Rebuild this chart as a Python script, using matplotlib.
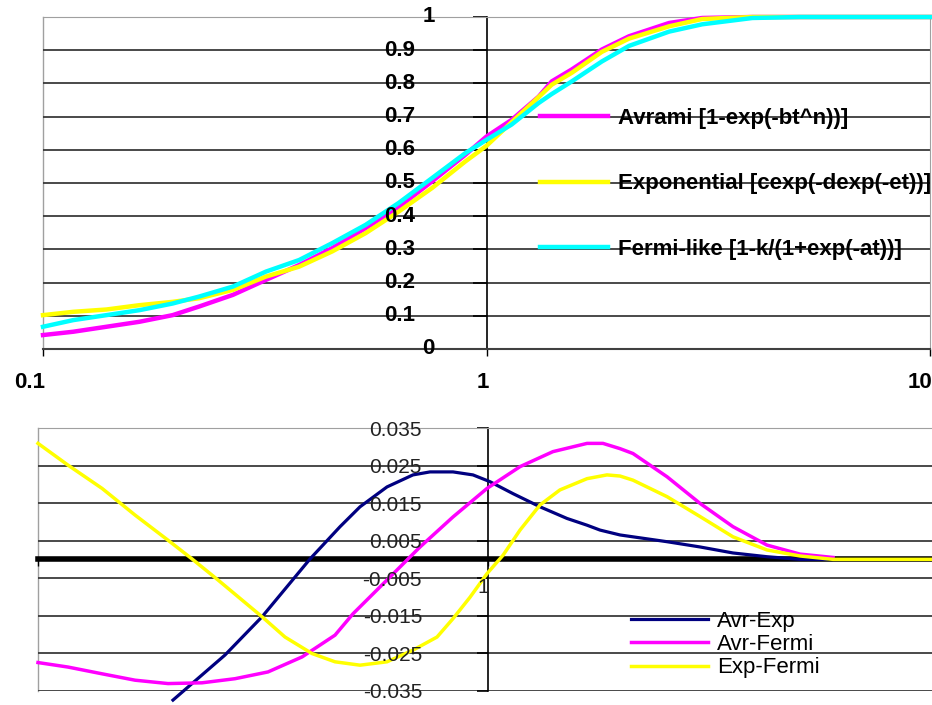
import matplotlib
matplotlib.use("Agg")
import matplotlib.pyplot as plt
from matplotlib.ticker import NullLocator

plt.rcParams['font.family'] = ['Liberation Sans', 'DejaVu Sans']

# ---- top panel data (fraction vs t, log axis) ----
t_top = [0.1, 0.117, 0.139, 0.165, 0.196, 0.225, 0.268, 0.318, 0.378, 0.449, 0.534,
         0.634, 0.754, 0.896, 1.0, 1.139, 1.311, 1.403, 1.557, 1.82, 2.096, 2.581,
         3.064, 3.977, 5.08, 10]
avrami = [0.042, 0.052, 0.067, 0.082, 0.102, 0.128, 0.163, 0.208, 0.253, 0.304, 0.364,
          0.427, 0.505, 0.585, 0.64, 0.69, 0.76, 0.806, 0.842, 0.902, 0.942, 0.982,
          0.997, 1.0, 1.0, 1.0]
exponential = [0.102, 0.112, 0.119, 0.132, 0.142, 0.153, 0.178, 0.218, 0.248, 0.294, 0.349,
               0.414, 0.485, 0.565, 0.612, 0.683, 0.759, 0.796, 0.832, 0.895, 0.935, 0.972,
               0.994, 1.0, 1.0, 1.0]
fermi = [0.067, 0.087, 0.102, 0.117, 0.137, 0.158, 0.188, 0.233, 0.268, 0.319, 0.374,
         0.44, 0.515, 0.59, 0.63, 0.676, 0.741, 0.768, 0.806, 0.866, 0.913, 0.956,
         0.978, 0.997, 1.0, 1.0]
top_names = ['Avrami [1-exp(-bt^n))]', 'Exponential [cexp(-dexp(-et))]',
             'Fermi-like [1-k/(1+exp(-at))]']
top_yticks = [0, 0.1, 0.2, 0.3, 0.4, 0.5, 0.6, 0.7, 0.8, 0.9, 1]
top_ylabels = ['0', '0.1', '0.2', '0.3', '0.4', '0.5', '0.6', '0.7', '0.8', '0.9', '1']
xticks = [0.1, 1, 10]
xlabels = ['0.1', '1', '10']

# ---- bottom panel data (differences) ----
t_avr_exp = [0.1995, 0.2603, 0.3147, 0.4022, 0.469, 0.5195, 0.5964, 0.681, 0.7432, 0.836,
             0.926, 1.01, 1.137, 1.305, 1.498, 1.66, 1.774, 1.965, 2.1, 2.5, 2.96,
             3.503, 4.169, 4.935, 5.639]
avr_exp = [-0.0375, -0.0255, -0.0153, 0.0001, 0.0087, 0.014, 0.0193, 0.0225, 0.0233, 0.0233,
           0.0225, 0.0207, 0.0175, 0.014, 0.0109, 0.0091, 0.0078, 0.0065, 0.006, 0.0047, 0.0033,
           0.0017, 0.0007, 0.0, 0.0]
t_avr_fermi = [0.1, 0.1166, 0.1388, 0.1643, 0.1945, 0.2314, 0.2741, 0.3244, 0.3862, 0.4571,
               0.5012, 0.5964, 0.7063, 0.836, 0.995, 1.178, 1.394, 1.66, 1.801, 1.965, 2.1,
               2.5, 2.96, 3.503, 4.169, 4.935, 5.845]
avr_fermi = [-0.0275, -0.0287, -0.0305, -0.0322, -0.0331, -0.0329, -0.0318, -0.030, -0.026,
             -0.0202, -0.0145, -0.0055, 0.0033, 0.0113, 0.0189, 0.0247, 0.0287, 0.0309, 0.0309,
             0.0295, 0.0282, 0.022, 0.0149, 0.0087, 0.0038, 0.0014, 0.0005]
t_exp_fermi = [0.1, 0.1166, 0.1388, 0.1643, 0.1945, 0.22, 0.2512, 0.3147, 0.3539, 0.4064,
               0.4571, 0.5195, 0.5964, 0.681, 0.7704, 0.836, 0.912, 0.995, 1.08, 1.178, 1.305,
               1.445, 1.66, 1.838, 1.965, 2.1, 2.5, 2.96, 3.503, 4.169, 4.935, 5.845, 10]
exp_fermi = [0.0309, 0.0251, 0.0189, 0.0118, 0.0051, 0.0001, -0.0055, -0.0153, -0.0207, -0.0251,
             -0.0273, -0.0282, -0.0273, -0.0242, -0.0207, -0.0158, -0.0101, -0.0038, 0.0011,
             0.0078, 0.0145, 0.0185, 0.0215, 0.0225, 0.0222, 0.0211, 0.0167, 0.0114, 0.006,
             0.0025, 0.0009, 0.0, 0.0]
bottom_names = ['Avr-Exp', 'Avr-Fermi', 'Exp-Fermi']
bottom_yticks = [-0.035, -0.025, -0.015, -0.005, 0.005, 0.015, 0.025, 0.035]
bottom_ylabels = ['-0.035', '-0.025', '-0.015', '-0.005', '0.005', '0.015', '0.025', '0.035']

W, H = 932, 705
fig = plt.figure(figsize=(W / 100, H / 100), dpi=100)

# ================= top panel =================
ax1 = fig.add_axes([43 / W, 1 - 349 / H, 887 / W, 332 / H])
ax1.set_xscale('log')
ax1.set_xlim(0.1, 10)
ax1.set_ylim(0, 1)
ax1.spines['left'].set_position(('data', 1))
ax1.spines['left'].set_color('black')
ax1.spines['left'].set_linewidth(1.2)
ax1.spines['top'].set_color('#a0a0a0')
ax1.spines['right'].set_color('#a0a0a0')
ax1.spines['bottom'].set_color('#404040')
ax1.spines['bottom'].set_linewidth(1.5)
ax1.axvline(0.1, color='#a0a0a0', lw=1, clip_on=False, zorder=1)
ax1.hlines(top_yticks[1:-1], 0.1, 10, color='#3a3a3a', lw=1.3, zorder=1)

ax1.set_yticks(top_yticks)
ax1.set_xticks(xticks)
ax1.xaxis.set_minor_locator(NullLocator())
ax1.tick_params(axis='y', direction='out', length=10, width=1.2, labelleft=False)
ax1.tick_params(axis='x', direction='out', length=5, width=1, labelbottom=False)

ax1.plot(t_top, avrami, color='#ff00ff', lw=3.2, clip_on=False, label=top_names[0], zorder=3)
ax1.plot(t_top, exponential, color='#ffff00', lw=3.2, clip_on=False, label=top_names[1], zorder=3)
ax1.plot(t_top, fermi, color='#00ffff', lw=3.2, clip_on=False, label=top_names[2], zorder=3)

for v, lab in zip(top_yticks, top_ylabels):
    dx = -52 if '.' not in lab else -71
    ax1.annotate(lab, xy=(1, v), xycoords='data', xytext=(dx, 0), textcoords='offset pixels',
                 ha='right', va='center', fontsize=16, fontweight='bold', annotation_clip=False)
for x, lab in zip(xticks, xlabels):
    ax1.annotate(lab, xy=(x, 0), xycoords='data', xytext=(2, -34), textcoords='offset pixels',
                 ha='right', va='center', fontsize=16, fontweight='bold', annotation_clip=False)

ax1.legend(loc='upper left', bbox_to_anchor=(540 / W, 1 - 108 / H), bbox_transform=fig.transFigure,
           frameon=False, prop={'size': 16, 'weight': 'bold'}, handlelength=3.06,
           handletextpad=0.45, labelspacing=2.0, borderpad=0, borderaxespad=0)

# ================= bottom panel =================
ax2 = fig.add_axes([38 / W, 1 - 690.7 / H, 900 / W, 262.7 / H])
ax2.set_xscale('log')
ax2.set_xlim(0.1, 10)
ax2.set_ylim(-0.035, 0.035)
ax2.spines['left'].set_position(('data', 1))
ax2.spines['left'].set_color('black')
ax2.spines['left'].set_linewidth(1.2)
ax2.spines['bottom'].set_position(('data', 0))
ax2.spines['bottom'].set_color('black')
ax2.spines['bottom'].set_linewidth(4)
ax2.spines['top'].set_color('#a0a0a0')
ax2.spines['right'].set_visible(False)
ax2.axvline(0.1, color='#a0a0a0', lw=1, clip_on=False, zorder=1)
ax2.hlines(bottom_yticks[:-1], 0.1, 10, color='#3a3a3a', lw=1.3, zorder=1)

ax2.set_yticks(bottom_yticks)
ax2.set_xticks(xticks)
ax2.xaxis.set_minor_locator(NullLocator())
ax2.tick_params(axis='y', direction='out', length=8, width=1.2, labelleft=False)
ax2.tick_params(axis='x', direction='out', length=5, width=1, labelbottom=False)

ax2.plot(t_avr_exp, avr_exp, color='#000080', lw=2.3, clip_on=False, label=bottom_names[0], zorder=3)
ax2.plot(t_avr_fermi, avr_fermi, color='#ff00ff', lw=2.5, clip_on=False, label=bottom_names[1], zorder=3)
ax2.plot(t_exp_fermi, exp_fermi, color='#ffff00', lw=2.5, clip_on=False, label=bottom_names[2], zorder=3)

for v, lab in zip(bottom_yticks, bottom_ylabels):
    ax2.annotate(lab, xy=(1, v), xycoords='data', xytext=(-66, -2), textcoords='offset pixels',
                 ha='right', va='center', fontsize=15, color='#222222', annotation_clip=False)
ax2.annotate('1', xy=(1, 0), xycoords='data', xytext=(1, -28), textcoords='offset pixels',
             ha='right', va='center', fontsize=15, color='#222222', annotation_clip=False)

ax2.legend(loc='upper left', bbox_to_anchor=(631 / W, 1 - 611 / H), bbox_transform=fig.transFigure,
           frameon=False, prop={'size': 16}, handlelength=3.47, handletextpad=0.4,
           labelspacing=0.1, borderpad=0, borderaxespad=0)

fig.savefig('out.png', dpi=100)
